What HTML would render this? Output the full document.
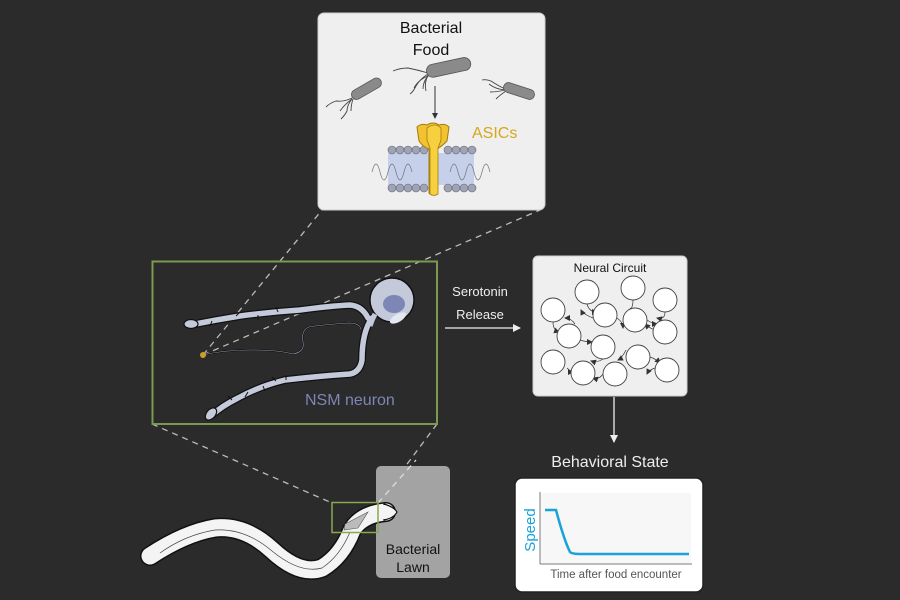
<!DOCTYPE html>
<html><head><meta charset="utf-8"><style>
html,body{margin:0;padding:0;background:#2b2b2b;}
svg{display:block;font-family:"Liberation Sans",Arial,sans-serif;}
</style></head><body>
<svg width="900" height="600" viewBox="0 0 900 600" xmlns="http://www.w3.org/2000/svg">
<defs>
<marker id="aw" markerWidth="8" markerHeight="8" refX="7" refY="4" orient="auto" markerUnits="userSpaceOnUse"><path d="M0,0 L8,4 L0,8 z" fill="#eee"/></marker>
<marker id="ab" markerWidth="6" markerHeight="6" refX="5" refY="3" orient="auto" markerUnits="userSpaceOnUse"><path d="M0,0 L6,3 L0,6 z" fill="#333"/></marker>
</defs>
<rect width="900" height="600" fill="#2b2b2b"/>

<g stroke="#bbb" stroke-width="1.3" stroke-dasharray="6,5" fill="none">
<line x1="203" y1="355" x2="322" y2="210"/>
<line x1="203" y1="355" x2="540" y2="210"/>
<line x1="152" y1="424" x2="332" y2="503"/>
<line x1="437" y1="424" x2="378" y2="503"/>
</g>

<rect x="318" y="13" width="227" height="197" rx="6" fill="#efefef" stroke="#ccc"/>
<text x="431" y="33" font-size="16" text-anchor="middle" fill="#111">Bacterial</text>
<text x="431" y="55" font-size="16" text-anchor="middle" fill="#111">Food</text>
<g stroke="#444" stroke-width="0.9" fill="none">
<path d="M428,73 q-10,-3 -20,-5 q-8,0 -15,3"/><path d="M428,74 q-8,5 -12,12 q-3,6 -6,8"/><path d="M429,75 q-6,6 -6,14"/><path d="M428,76 q-10,4 -14,12"/><path d="M428,75 q-4,8 -2,16"/>
<path d="M352,98 q-8,4 -16,3 q-6,2 -10,6"/><path d="M352,99 q-5,6 -5,12 q-2,4 -6,8"/><path d="M353,99 q-2,6 -2,12"/><path d="M352,99 q-8,6 -12,12"/>
<path d="M505,89 q-8,-4 -14,-8 q-5,-2 -9,-1"/><path d="M505,90 q-8,2 -15,2"/><path d="M506,91 q-6,4 -10,8"/><path d="M505,90 q-10,-1 -16,-6"/>
</g>
<g fill="#8a8a8a" stroke="#555" stroke-width="0.8">
<rect x="426" y="61" width="45" height="13" rx="6.5" transform="rotate(-12 448 67)"/>
<rect x="350" y="84" width="33" height="10" rx="5" transform="rotate(-30 366 89)"/>
<rect x="503" y="86" width="32" height="10" rx="5" transform="rotate(18 519 91)"/>
</g>
<line x1="435" y1="86" x2="435" y2="118" stroke="#333" stroke-width="1" marker-end="url(#ab)"/>
<rect x="388" y="153" width="86" height="32" fill="#c6d0ea"/>
<g fill="#9ea3b8" stroke="#666" stroke-width="0.6">
<circle cx="392" cy="150" r="4"/><circle cx="400" cy="150" r="4"/><circle cx="408" cy="150" r="4"/><circle cx="416" cy="150" r="4"/><circle cx="424" cy="150" r="4"/><circle cx="448" cy="150" r="4"/><circle cx="456" cy="150" r="4"/><circle cx="464" cy="150" r="4"/><circle cx="472" cy="150" r="4"/>
<circle cx="392" cy="188" r="4"/><circle cx="400" cy="188" r="4"/><circle cx="408" cy="188" r="4"/><circle cx="416" cy="188" r="4"/><circle cx="424" cy="188" r="4"/><circle cx="448" cy="188" r="4"/><circle cx="456" cy="188" r="4"/><circle cx="464" cy="188" r="4"/><circle cx="472" cy="188" r="4"/>
</g>
<path d="M372,172 q4,-16 8,0 q4,16 8,0 q4,-16 8,0 q4,16 8,0 q4,-16 8,0 M450,172 q4,-16 8,0 q4,16 8,0 q4,-16 8,0 q4,16 8,0 q4,-16 8,0" stroke="#777" stroke-width="0.7" fill="none"/>
<path d="M417,127 q4,-4 10,-2 q6,-4 12,0 q6,-2 10,2 l-2,14 q-6,6 -10,8 l0,44 q-4,4 -8,0 l0,-44 q-6,-2 -10,-8 z" fill="#f2c230" stroke="#a07b10" stroke-width="1"/>
<path d="M427,128 q8,-6 14,0 l0,12 l-3,8 l0,46 q-4,3 -8,0 l0,-46 l-3,-8 z" fill="#f7d040" stroke="#a07b10" stroke-width="0.8"/>
<text x="472" y="138" font-size="16" fill="#d8a61c">ASICs</text>

<rect x="152.5" y="261.5" width="284.5" height="162.5" fill="none" stroke="#7b9a4f" stroke-width="2"/>
<g fill="none" stroke-linecap="round" stroke-linejoin="round">
<path d="M190,325 Q215,320 240,316 Q270,312 300,310 Q330,306 350,305 Q362,306 368,318" stroke="#111" stroke-width="8"/>
<path d="M372,318 Q362,332 362,360 Q360,372 350,374 Q320,376 285,380 Q260,386 238,398 Q222,406 212,415" stroke="#111" stroke-width="8"/>
<path d="M190,325 Q215,320 240,316 Q270,312 300,310 Q330,306 350,305 Q362,306 368,318" stroke="#c5cadb" stroke-width="5.5"/>
<path d="M372,318 Q362,332 362,360 Q360,372 350,374 Q320,376 285,380 Q260,386 238,398 Q222,406 212,415" stroke="#c5cadb" stroke-width="5.5"/>
</g>
<ellipse cx="191" cy="324" rx="7" ry="4.5" fill="#c5cadb" stroke="#111" stroke-width="1.2"/>
<ellipse cx="211" cy="414" rx="4.5" ry="7" fill="#c5cadb" stroke="#111" stroke-width="1.2" transform="rotate(40 211 414)"/>
<g stroke="#111" stroke-width="1" fill="none">
<path d="M212,321 l-2,5"/><path d="M236,316 l4,-4"/><path d="M278,312 l-2,-5"/><path d="M258,315 l0,5"/><path d="M276,381 l-4,-4"/><path d="M263,386 l2,5"/><path d="M232,400 l-4,-4"/><path d="M248,392 l-3,5"/><path d="M286,380 l0,-5"/>
</g>
<circle cx="392" cy="300" r="22" fill="#c5cadb" stroke="#111" stroke-width="1.4"/>
<path d="M375,314 Q372,320 370,326" stroke="#c5cadb" stroke-width="5" fill="none"/>
<ellipse cx="394" cy="304" rx="11" ry="9" fill="#7d86b5"/>
<ellipse cx="398" cy="318" rx="9" ry="4" fill="#e4e8f2" transform="rotate(-30 398 318)"/>
<path d="M203,355 q20,-5 50,-5 q25,0 40,4 q12,-2 10,-12 q-2,-12 6,-15 q10,-2 40,-4 q10,0 12,6" fill="none" stroke="#111" stroke-width="1.8"/>
<path d="M203,355 q20,-5 50,-5 q25,0 40,4 q12,-2 10,-12 q-2,-12 6,-15 q10,-2 40,-4 q10,0 12,6" fill="none" stroke="#9aa0b8" stroke-width="0.6"/>
<circle cx="203" cy="355" r="3" fill="#c8a030"/>
<text x="305" y="405" font-size="16" fill="#7d86b5">NSM neuron</text>

<text x="480" y="296" font-size="13" fill="#eee" text-anchor="middle">Serotonin</text>
<text x="480" y="319" font-size="13" fill="#eee" text-anchor="middle">Release</text>
<line x1="445" y1="328" x2="520" y2="328" stroke="#eee" stroke-width="1.3" marker-end="url(#aw)"/>

<rect x="533" y="256" width="154" height="140" rx="5" fill="#efefef" stroke="#ccc"/>
<text x="610" y="272" font-size="12" text-anchor="middle" fill="#111">Neural Circuit</text>
<g fill="none" stroke="#333" stroke-width="0.7" marker-end="url(#ab)">
<path d="M587,304 q2,8 10,8"/><path d="M633,300 q0,10 -6,12"/><path d="M665,312 q0,8 -8,6"/><path d="M553,322 q0,8 6,10"/><path d="M593,318 q-10,-4 -12,-8"/><path d="M617,318 q6,4 6,10"/><path d="M647,320 q6,4 10,4"/><path d="M580,340 q6,2 12,2"/><path d="M603,359 q-6,4 -12,2"/><path d="M626,350 q-4,8 -8,10"/><path d="M650,357 q6,2 10,6"/><path d="M567,368 q4,4 6,4"/><path d="M603,374 q-4,6 -10,4"/><path d="M655,368 q-6,2 -8,6"/><path d="M655,330 q-6,-2 -10,-6"/><path d="M575,324 q-4,-6 -10,-6"/>
</g>
<g fill="#fff" stroke="#444" stroke-width="0.9">
<circle cx="587" cy="292" r="12"/><circle cx="633" cy="288" r="12"/><circle cx="665" cy="300" r="12"/><circle cx="553" cy="310" r="12"/><circle cx="605" cy="315" r="12"/><circle cx="635" cy="320" r="12"/><circle cx="665" cy="332" r="12"/><circle cx="569" cy="336" r="12"/><circle cx="603" cy="347" r="12"/><circle cx="638" cy="357" r="12"/><circle cx="553" cy="362" r="12"/><circle cx="583" cy="373" r="12"/><circle cx="615" cy="374" r="12"/><circle cx="667" cy="370" r="12"/>
</g>
<line x1="614" y1="397" x2="614" y2="442" stroke="#eee" stroke-width="1.3" marker-end="url(#aw)"/>
<text x="610" y="467" font-size="16" text-anchor="middle" fill="#eee">Behavioral State</text>

<rect x="515" y="478" width="188" height="114" rx="7" fill="#fff" stroke="#222" stroke-width="1.5"/>
<rect x="541" y="493" width="150" height="70" fill="#f7f7f7"/>
<line x1="540" y1="492" x2="540" y2="564" stroke="#777" stroke-width="1"/>
<line x1="540" y1="564" x2="692" y2="564" stroke="#777" stroke-width="1"/>
<path d="M545,510 L556,510 Q564,540 570,552 Q572,554 580,554 L689,554" fill="none" stroke="#1aa3d8" stroke-width="2.5"/>
<text transform="translate(535,530) rotate(-90)" font-size="15" text-anchor="middle" fill="#1aa3d8">Speed</text>
<text x="616" y="578" font-size="11.5" text-anchor="middle" fill="#555">Time after food encounter</text>

<rect x="376" y="466" width="74" height="112" rx="5" fill="#a3a3a3"/>
<text x="413" y="554" font-size="14" text-anchor="middle" fill="#111">Bacterial</text>
<text x="413" y="572" font-size="14" text-anchor="middle" fill="#111">Lawn</text>
<line x1="378" y1="503" x2="416" y2="460" stroke="#ddd" stroke-width="1.3" stroke-dasharray="6,5"/>

<!-- worm -->
<g fill="none" stroke-linecap="round" stroke-linejoin="round">
<path d="M150,556 Q185,533 215,528 Q245,525 272,550 Q300,576 322,568 Q342,556 352,530 Q362,514 386,512" stroke="#111" stroke-width="20"/>
<path d="M150,556 Q185,533 215,528 Q245,525 272,550 Q300,576 322,568 Q342,556 352,530 Q362,514 386,512" stroke="#f4f4f4" stroke-width="17"/>
</g>
<path d="M384,504 Q394,507 397,512 Q394,518 384,520 Z" fill="#f4f4f4" stroke="#111" stroke-width="1.2"/>
<rect x="378" y="505" width="7" height="14" fill="#f4f4f4"/>
<path d="M160,553 Q185,535 215,530 Q245,528 272,551 Q300,574 322,568 Q340,556 350,532" fill="none" stroke="#444" stroke-width="0.7"/>
<path d="M345,524 L368,512 L358,528 L344,530 Z" fill="#bbb" stroke="#555" stroke-width="0.6"/>
<rect x="332" y="502.5" width="46" height="30" fill="none" stroke="#8aa84c" stroke-width="1.5"/>
</svg>
</body></html>
